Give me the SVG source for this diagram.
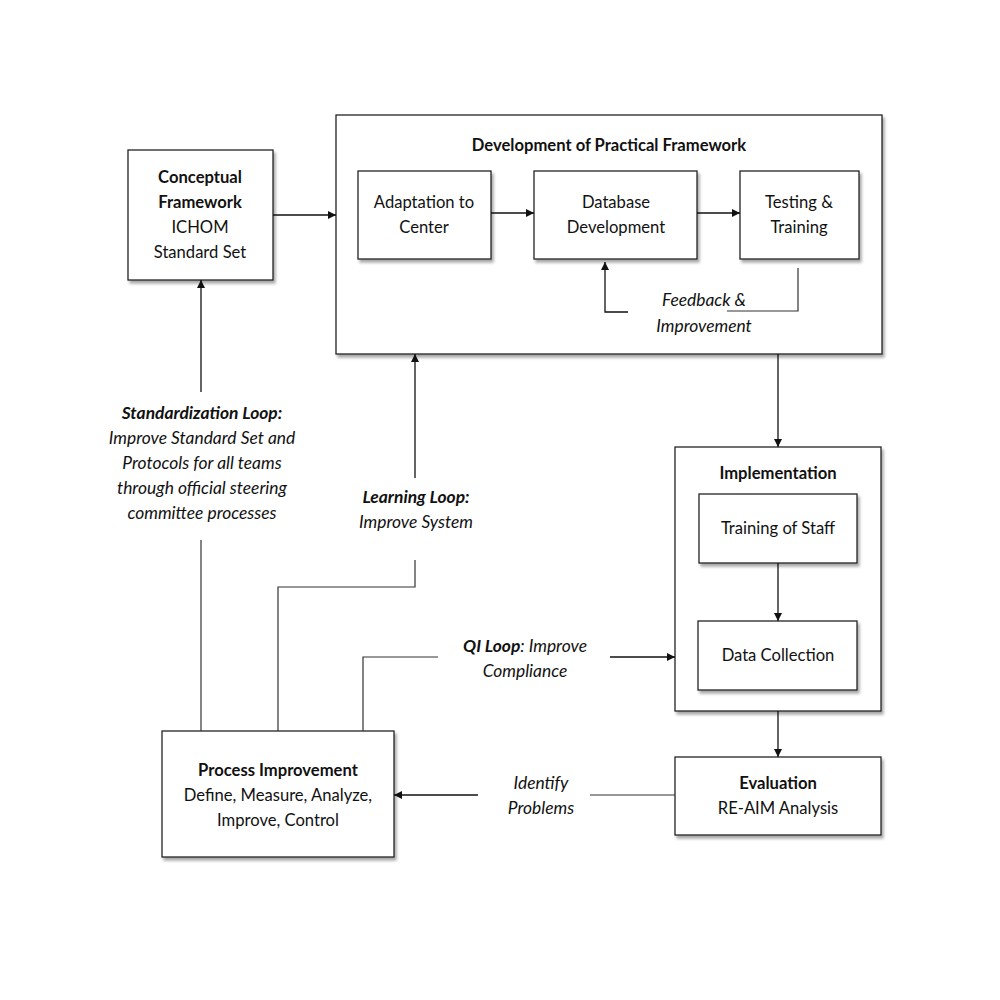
<svg xmlns="http://www.w3.org/2000/svg" width="1000" height="1000" viewBox="0 0 1000 1000">
<defs>
<filter id="sh" x="-10%" y="-10%" width="130%" height="130%">
<feGaussianBlur in="SourceAlpha" stdDeviation="1.5"/>
<feOffset dx="2" dy="3" result="b"/>
<feComponentTransfer><feFuncA type="linear" slope="0.35"/></feComponentTransfer>
<feMerge><feMergeNode/><feMergeNode in="SourceGraphic"/></feMerge>
</filter>
<marker id="ar" viewBox="0 0 10 10" refX="10" refY="5" markerWidth="8" markerHeight="8" markerUnits="userSpaceOnUse" orient="auto">
<path d="M0,0 L10,5 L0,10 z" fill="#111"/>
</marker>
</defs>
<style>
.box{fill:#fff;stroke:#222;stroke-width:1.3;filter:url(#sh)}
text{font-family:Lato,"Open Sans","Liberation Sans",sans-serif;font-size:16.6px;fill:#111;text-anchor:middle}
.b{font-weight:bold}
.i{font-style:italic;font-size:17.4px}
.ln{fill:none;stroke:#333;stroke-width:1.2}
.ar{fill:none;stroke:#111;stroke-width:1.3;marker-end:url(#ar)}
</style>
<rect width="1000" height="1000" fill="#fff"/>
<g id="conceptual">
<rect class="box" x="128" y="150" width="145" height="130"/>
<text x="200" y="183" class="b">Conceptual</text>
<text x="200" y="208" class="b">Framework</text>
<text x="200" y="233">ICHOM</text>
<text x="200" y="258">Standard Set</text>
</g>
<g id="development">
<rect class="box" x="336" y="115" width="546" height="239"/>
<text x="609" y="151" class="b">Development of Practical Framework</text>
</g>
<g id="adaptation">
<rect class="box" x="358" y="171" width="133" height="88"/>
<text x="424" y="208">Adaptation to</text>
<text x="424" y="233">Center</text>
</g>
<g id="database">
<rect class="box" x="534" y="171" width="163" height="88"/>
<text x="616" y="208">Database</text>
<text x="616" y="233">Development</text>
</g>
<g id="testing">
<rect class="box" x="740" y="171" width="119" height="88"/>
<text x="799" y="208">Testing &amp;</text>
<text x="799" y="233">Training</text>
</g>
<g id="implementation">
<rect class="box" x="675" y="447" width="206" height="264"/>
<text x="778" y="479" class="b">Implementation</text>
</g>
<g id="training">
<rect class="box" x="699" y="494" width="158" height="69"/>
<text x="778" y="534">Training of Staff</text>
</g>
<g id="datacollection">
<rect class="box" x="698" y="621" width="159" height="69"/>
<text x="778" y="661">Data Collection</text>
</g>
<g id="evaluation">
<rect class="box" x="675" y="757" width="206" height="78"/>
<text x="778" y="789" class="b">Evaluation</text>
<text x="778" y="814">RE-AIM Analysis</text>
</g>
<g id="process">
<rect class="box" x="162" y="731" width="232" height="126"/>
<text x="278" y="776" class="b">Process Improvement</text>
<text x="278" y="801">Define, Measure, Analyze,</text>
<text x="278" y="826">Improve, Control</text>
</g>
<g id="connectors">
<line class="ar" x1="273" y1="215" x2="336" y2="215"/>
<line class="ar" x1="491" y1="213" x2="534" y2="213"/>
<line class="ar" x1="697" y1="213" x2="740" y2="213"/>
<polyline class="ln" points="798,268 798,311 727,311"/>
<polyline class="ar" points="628,312 605,312 605,262"/>
<line class="ar" x1="778" y1="354" x2="778" y2="447"/>
<line class="ar" x1="778" y1="563" x2="778" y2="621"/>
<line class="ar" x1="778" y1="711" x2="778" y2="757"/>
<line class="ln" x1="675" y1="795" x2="590" y2="795"/>
<line class="ar" x1="478" y1="795" x2="394" y2="795"/>
<line class="ln" x1="201" y1="731" x2="201" y2="540"/>
<line class="ar" x1="201" y1="392" x2="201" y2="280"/>
<polyline class="ln" points="278,731 278,587 415,587 415,560"/>
<line class="ar" x1="415" y1="478" x2="415" y2="354"/>
<polyline class="ln" points="363,731 363,657 438,657"/>
<line class="ar" x1="610" y1="657" x2="675" y2="657"/>
</g>
<g id="labels">
<text x="704" y="306" class="i">Feedback &amp;</text>
<text x="704" y="332" class="i">Improvement</text>
<text x="541" y="789" class="i">Identify</text>
<text x="541" y="814" class="i">Problems</text>
<text x="202" y="419" class="i b">Standardization Loop:</text>
<text x="202" y="444" class="i">Improve Standard Set and</text>
<text x="202" y="469" class="i">Protocols for all teams</text>
<text x="202" y="494" class="i">through official steering</text>
<text x="202" y="519" class="i">committee processes</text>
<text x="416" y="503" class="i b">Learning Loop:</text>
<text x="416" y="528" class="i">Improve System</text>
<text x="525" y="652" class="i"><tspan class="b">QI Loop</tspan>: Improve</text>
<text x="525" y="677" class="i">Compliance</text>
</g>
</svg>
